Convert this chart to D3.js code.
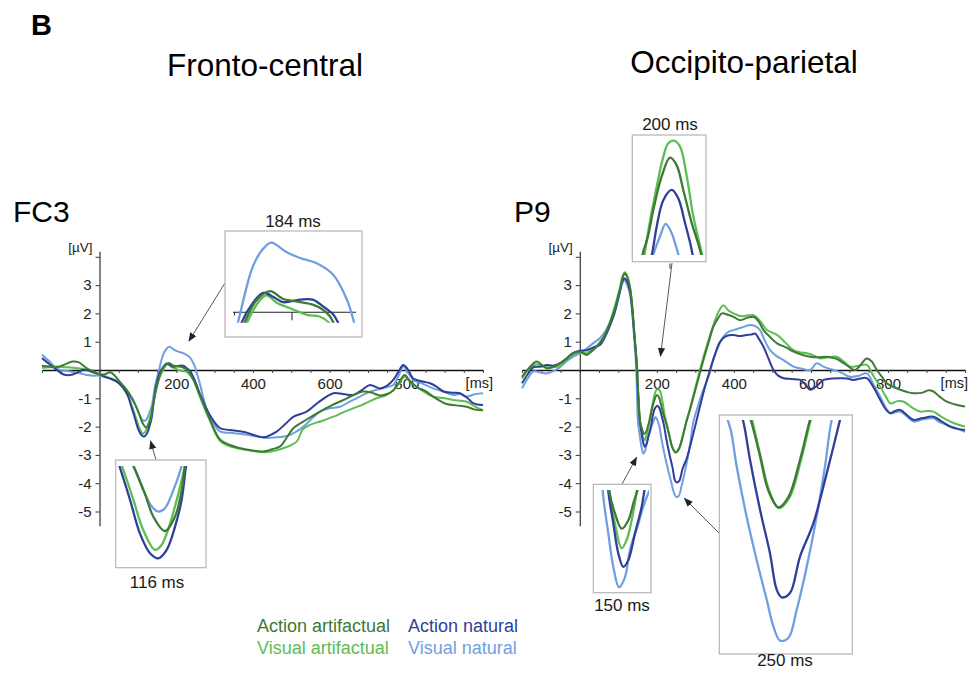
<!DOCTYPE html>
<html>
<head>
<meta charset="utf-8">
<script src="https://cdn.jsdelivr.net/npm/d3@7"></script>
<style>
body { margin: 0; background: #fff; }
svg text { font-family: "Liberation Sans", Arial, Helvetica, sans-serif; }
</style>
</head>
<body>
<svg width="968" height="675"></svg>
<script>
/* ERP waveforms, fronto-central (FC3) and occipito-parietal (P9) */

// Conditions, in legend order (row by row)
var conditions = ["Action artifactual", "Action natural", "Visual artifactual", "Visual natural"];
var condColors = ["#3d7a34", "#2f3f98", "#5dbd55", "#6f9fe0"];

// Tick labels
var timeLabels = [200, 400, 600, 800];
var voltTicks = [-5, -4, -3, -2, -1, 1, 2, 3, 4];
var voltLabels = [-5, -4, -3, -2, -1, 1, 2, 3];

// Waveforms: [time (ms), amplitude (µV)]
var fc3ActionArtifactual = [[-150,0.15],[-130,0.12],[-111,0.1],[-90,0.2],[-70,0.3],[-55,0.28],[-33,0.06],[-15,-0.05],[0,-0.15],[15,-0.15],[28,-0.08],[40,-0.2],[52,-0.4],[71,-0.7],[85,-1.0],[94.3,-1.26],[104.4,-1.59],[111.7,-1.86],[121.8,-2.03],[130.5,-1.86],[136.3,-1.55],[139.2,-1.26],[150,-0.55],[159,-0.12],[169,0.14],[181,0.25],[192,0.16],[207,0.12],[218,0.09],[227,0.03],[233,-0.05],[236,-0.12],[245,-0.35],[262,-0.9],[288,-1.75],[314,-2.45],[340,-2.65],[380,-2.8],[427,-2.88],[450,-2.8],[471,-2.7],[490,-2.35],[506,-2.05],[540,-1.75],[575,-1.47],[605,-1.25],[636,-1.06],[660,-0.9],[688,-0.76],[710,-0.8],[731,-0.9],[750,-0.85],[766,-0.72],[780,-0.45],[796,-0.18],[810,-0.4],[827,-0.6],[850,-0.75],[870,-0.94],[905,-1.2],[930,-1.25],[957,-1.3],[980,-1.4],[1000,-1.42]];
var fc3ActionNatural = [[-150,0.42],[-130,0.2],[-111,0.0],[-95,-0.15],[-77,-0.18],[-59,-0.1],[-45,0.0],[-33,0.0],[-15,-0.08],[0,-0.15],[15,-0.25],[28,-0.3],[49,-0.45],[71,-0.8],[82.1,-1.26],[91.4,-1.66],[100.1,-2.06],[108.8,-2.29],[116,-2.35],[123.3,-2.25],[130.5,-1.98],[136.3,-1.66],[140.1,-1.26],[148,-0.55],[156.3,-0.12],[166,0.11],[175,0.23],[184,0.18],[192,0.12],[207,0.15],[218,0.15],[227,0.07],[236,-0.03],[240,-0.12],[248,-0.35],[262,-0.85],[288,-1.6],[314,-2.05],[340,-2.12],[380,-2.2],[427,-2.38],[445,-2.3],[462,-2.18],[485,-1.9],[506,-1.65],[540,-1.47],[575,-1.1],[610,-0.82],[635,-0.85],[662,-0.88],[685,-0.7],[705,-0.53],[731,-0.65],[750,-0.55],[766,-0.35],[780,-0.05],[792,0.18],[805,0.0],[818,-0.3],[840,-0.4],[862,-0.47],[880,-0.6],[897,-0.76],[920,-0.8],[940,-0.82],[960,-1.0],[975,-1.18],[1000,-1.24]];
var fc3VisualArtifactual = [[-150,0.08],[-130,0.1],[-111,0.12],[-90,0.1],[-70,0.08],[-50,0.05],[-33,0.0],[-15,-0.1],[0,-0.15],[15,-0.22],[28,-0.3],[49,-0.45],[71,-0.85],[84.2,-1.26],[94.3,-1.66],[103,-2.02],[113.1,-2.25],[119,-2.19],[126.2,-1.94],[133.4,-1.59],[139.2,-1.26],[150,-0.55],[161,-0.12],[172,0.14],[178,0.2],[187,0.11],[198,0.05],[213,-0.03],[224,-0.05],[232,-0.12],[245,-0.35],[262,-0.95],[288,-1.8],[314,-2.5],[340,-2.7],[380,-2.82],[435,-2.9],[488,-2.72],[514,-2.53],[530,-2.1],[549,-1.94],[580,-1.8],[610,-1.65],[635,-1.5],[662,-1.35],[690,-1.2],[722,-1.0],[745,-0.9],[766,-0.72],[782,-0.45],[796,-0.24],[810,-0.4],[827,-0.6],[850,-0.8],[870,-0.94],[900,-1.0],[922,-1.06],[957,-1.12],[980,-1.3],[1000,-1.42]];
var fc3VisualNatural = [[-150,0.54],[-130,0.3],[-111,0.05],[-95,-0.02],[-77,-0.05],[-55,-0.1],[-33,-0.18],[-15,-0.2],[0,-0.2],[15,-0.25],[28,-0.3],[49,-0.4],[71,-0.75],[85,-1.05],[94.3,-1.26],[103,-1.55],[110.3,-1.74],[116,-1.8],[121.8,-1.76],[129,-1.55],[136.3,-1.26],[145,-0.55],[153,-0.12],[166,0.54],[175,0.75],[182,0.82],[195,0.71],[207,0.64],[221,0.58],[236,0.44],[248,0.14],[254,-0.12],[262,-0.5],[275,-1.2],[288,-1.65],[314,-2.17],[340,-2.22],[380,-2.28],[435,-2.4],[460,-2.38],[488,-2.33],[510,-2.2],[532,-2.0],[555,-1.7],[575,-1.47],[600,-1.35],[627,-1.3],[655,-1.1],[679,-0.94],[700,-0.8],[722,-0.7],[745,-0.62],[766,-0.53],[780,-0.2],[792,0.12],[805,-0.1],[818,-0.35],[845,-0.5],[870,-0.65],[895,-0.75],[922,-0.88],[940,-0.85],[957,-0.94],[980,-0.85],[1000,-0.82]];

var p9ActionArtifactual = [[-150,-0.24],[-130,0.1],[-112,0.3],[-100,0.2],[-86,0.06],[-70,0.1],[-51,0.24],[-35,0.4],[-17,0.6],[0,0.65],[18,0.53],[30,0.65],[44,0.82],[60,1.1],[78,1.65],[92,2.2],[104,2.82],[112,3.3],[117,3.41],[124,3.25],[130,2.94],[135,2.4],[139,1.76],[144,0.9],[148,0.24],[152,-0.9],[156.5,-1.81],[161.5,-2.08],[167.3,-2.26],[173.1,-2.16],[177.4,-1.96],[180.9,-1.81],[185.5,-1.5],[192.8,-1.1],[200,-0.88],[205.8,-0.97],[211.5,-1.26],[218.8,-1.65],[225,-1.92],[232.2,-2.31],[239.3,-2.71],[248,-2.91],[256.7,-2.79],[266.8,-2.35],[275.4,-1.88],[285,-1.45],[295,-0.95],[308,-0.3],[321,0.35],[335,1.0],[347,1.53],[360,1.85],[369,2.0],[385,1.95],[399,1.88],[416,1.76],[435,1.85],[451,1.88],[465,1.7],[477,1.41],[495,1.15],[512,0.94],[535,0.8],[555,0.65],[575,0.55],[598,0.47],[620,0.45],[641,0.47],[665,0.4],[685,0.24],[700,0.1],[715,0.0],[730,0.2],[745,0.41],[758,0.3],[771,0.0],[785,-0.25],[797,-0.47],[815,-0.6],[832,-0.7],[850,-0.78],[866,-0.82],[890,-0.8],[905,-0.72],[918,-0.76],[935,-0.95],[953,-1.12],[975,-1.22],[1000,-1.29]];
var p9ActionNatural = [[-150,-0.47],[-135,-0.15],[-120,0.1],[-100,0.12],[-86,0.18],[-70,0.15],[-51,0.24],[-35,0.4],[-17,0.6],[0,0.68],[18,0.7],[35,0.8],[52,0.88],[70,1.3],[87,1.88],[100,2.55],[110,3.1],[115,3.24],[122,3.15],[130,2.8],[135,2.3],[139,1.65],[144,0.85],[148,0.1],[152,-1.0],[155.7,-1.81],[160.1,-2.2],[164.4,-2.55],[168.7,-2.71],[173.1,-2.63],[178.9,-2.31],[184.5,-2.01],[188.5,-1.69],[194.2,-1.38],[201.5,-1.26],[207.2,-1.36],[213,-1.65],[218.5,-1.95],[223.5,-2.35],[232.2,-2.94],[240.8,-3.45],[246.6,-3.88],[250.9,-3.97],[258.1,-3.92],[266.8,-3.49],[278.3,-3.1],[289.9,-2.51],[301.4,-1.88],[312,-1.29],[325,-0.6],[338,0],[351,0.55],[364,1.0],[380,1.2],[399,1.24],[415,1.2],[433,1.24],[445,1.25],[455,1.29],[465,1.1],[477,0.82],[490,0.4],[503,0],[515,-0.2],[529,-0.29],[550,-0.32],[572,-0.35],[585,-0.5],[598,-0.7],[612,-0.6],[633,-0.35],[655,-0.3],[676,-0.29],[695,-0.3],[710,-0.35],[728,-0.3],[745,-0.29],[762,-0.6],[780,-1.06],[795,-1.4],[806,-1.53],[818,-1.45],[832,-1.41],[850,-1.6],[866,-1.76],[890,-1.7],[918,-1.65],[940,-1.82],[961,-2.0],[980,-2.08],[1000,-2.12]];
var p9VisualArtifactual = [[-150,-0.3],[-130,0.05],[-112,0.2],[-100,0.15],[-86,0.1],[-70,0.1],[-51,0.15],[-35,0.35],[-17,0.55],[0,0.62],[18,0.6],[30,0.72],[44,0.85],[60,1.15],[78,1.7],[92,2.3],[104,2.9],[112,3.35],[117,3.45],[124,3.3],[130,2.95],[135,2.45],[139,1.8],[144,0.9],[148,0.2],[152,-0.9],[156.5,-1.81],[161.5,-2.2],[167.3,-2.49],[171.7,-2.39],[177.4,-2.06],[181.5,-1.72],[188.5,-1.22],[194.2,-0.87],[198.5,-0.71],[203.5,-0.68],[208.7,-0.75],[214.5,-1.1],[220.2,-1.57],[227.4,-2.0],[233,-2.33],[240,-2.71],[248.5,-2.92],[257.5,-2.8],[267.5,-2.36],[276,-1.88],[285,-1.42],[295,-0.9],[308,-0.2],[321,0.45],[335,1.1],[347,1.6],[360,2.05],[373,2.29],[386,2.1],[399,2.0],[420,1.9],[451,1.94],[470,1.7],[486,1.41],[512,1.24],[535,0.95],[555,0.7],[575,0.62],[590,0.59],[610,0.5],[624,0.41],[645,0.45],[667,0.47],[685,0.3],[702,0.12],[725,0.15],[745,0.18],[762,-0.2],[780,-0.59],[795,-0.95],[806,-1.18],[825,-1.1],[841,-1.12],[865,-1.35],[884,-1.47],[900,-1.45],[918,-1.47],[935,-1.62],[953,-1.76],[975,-1.9],[1000,-2.0]];
var p9VisualNatural = [[-150,-0.65],[-135,-0.3],[-120,-0.05],[-100,-0.1],[-86,-0.12],[-70,-0.05],[-51,0.1],[-35,0.3],[-17,0.47],[0,0.6],[18,0.76],[35,0.95],[52,1.12],[70,1.45],[87,1.88],[100,2.5],[110,3.05],[115,3.18],[122,3.05],[130,2.7],[135,2.2],[139,1.53],[143,0.8],[146,0.2],[148.5,-0.8],[150.9,-1.81],[155.7,-2.31],[160.1,-2.71],[165,-2.95],[170.2,-2.83],[174.5,-2.51],[181.7,-2.2],[186,-2.0],[191.3,-1.81],[196.3,-1.66],[201.5,-1.77],[204.2,-1.88],[207.2,-2.02],[212,-2.43],[220.6,-3.02],[229.3,-3.53],[238,-4.0],[243.7,-4.31],[249.5,-4.48],[256.7,-4.45],[263.9,-4.12],[272.6,-3.61],[281.2,-3.02],[288.4,-2.43],[294.2,-1.88],[305,-1.35],[318,-0.8],[335,-0.2],[350,0.5],[373,1.18],[386,1.35],[399,1.41],[420,1.5],[442,1.59],[455,1.55],[468,1.41],[480,1.05],[494,0.7],[510,0.5],[529,0.35],[555,0.12],[575,0.05],[598,0],[615,0.24],[635,0.1],[659,0],[680,-0.1],[702,-0.24],[725,-0.2],[745,-0.12],[762,-0.5],[780,-0.94],[795,-1.35],[806,-1.53],[818,-1.5],[832,-1.47],[850,-1.65],[866,-1.82],[890,-1.75],[918,-1.71],[935,-1.85],[953,-1.94],[975,-2.05],[1000,-2.18]];

// Layout
var timeDomain = [-150, 1000];
var voltDomain = [-5.5, 4.2];
var zeroY = 370, pxPerUv = 28.3;
var zoomFactor = 3;

var panels = [
	{
		electrode: "FC3", title: "Fronto-central", titleX: 265, titleY: 76,
		left: 42, right: 483, msX: 493,
		series: [fc3ActionArtifactual, fc3ActionNatural, fc3VisualArtifactual, fc3VisualNatural],
		insets: [
			{ label: "184 ms", box: [225, 231, 137, 106], t: 200, v: 0, px: 292, py: 312.3, clip: [233, 233, 123, 89.7], labelX: 293, labelY: 227, zeroLine: true },
			{ label: "116 ms", box: [115.7, 460, 90.3, 107.7], t: 116, v: -2.35, px: 158.3, py: 558.3, clip: [117, 466, 87, 100], labelX: 157, labelY: 588 }
		],
		arrows: [[225, 283, 189, 341], [156, 460, 150.5, 441]]
	},
	{
		electrode: "P9", title: "Occipito-parietal", titleX: 744, titleY: 73,
		left: 522, right: 965, msX: 968,
		series: [p9ActionArtifactual, p9ActionNatural, p9VisualArtifactual, p9VisualNatural],
		insets: [
			{ label: "200 ms", box: [632.3, 135, 73.7, 126.7], t: 200, v: -0.88, px: 670, py: 157.7, clip: [634, 137, 70, 118], labelX: 670, labelY: 130, tick: true },
			{ label: "150 ms", box: [593.3, 484.3, 57.7, 108.4], t: 165, v: -2.95, px: 619, py: 587.3, clip: [595, 490, 54, 101], labelX: 622, labelY: 611 },
			{ label: "250 ms", box: [719.3, 415, 133, 239], t: 248, v: -2.91, px: 778.3, py: 507.3, clip: [721, 420, 129, 232], labelX: 785, labelY: 666 }
		],
		arrows: [[672, 263, 660.5, 356], [622, 484, 636.5, 457.5], [719, 533, 684.5, 498.5]]
	}
];

// draw order of the conditions (back to front)
var drawOrder = [3, 2, 1, 0];

var svg = d3.select("svg");

svg.append("defs").append("marker")
	.attr("id", "arrowhead")
	.attr("viewBox", "0 0 10 10")
	.attr("refX", 9).attr("refY", 5)
	.attr("markerWidth", 9).attr("markerHeight", 9)
	.attr("markerUnits", "userSpaceOnUse")
	.attr("orient", "auto")
	.append("path")
	.attr("d", "M0,1 L10,5 L0,9 Z")
	.attr("fill", "#222");

svg.append("text")
	.attr("x", 31).attr("y", 35)
	.attr("font-size", 29).attr("font-weight", "bold")
	.text("B");

panels.forEach(function (p, pi) {
	var x = d3.scaleLinear().domain(timeDomain).range([p.left, p.right]);
	var y = d3.scaleLinear().domain(voltDomain)
		.range([zeroY - voltDomain[0] * pxPerUv, zeroY - voltDomain[1] * pxPerUv]);

	var g = svg.append("g");

	g.append("text")
		.attr("x", p.titleX).attr("y", p.titleY)
		.attr("text-anchor", "middle")
		.attr("font-size", 31.5)
		.text(p.title);

	g.append("text")
		.attr("x", p.left - (pi == 0 ? 29 : 8)).attr("y", 222)
		.attr("font-size", 30)
		.text(p.electrode);

	// x axis (zero line) with 50 ms ticks
	var xAxis = g.append("g")
		.attr("transform", "translate(0," + zeroY + ")")
		.call(d3.axisBottom(x)
			.tickValues(d3.range(timeDomain[0], timeDomain[1] + 1, 50))
			.tickSize(3)
			.tickSizeOuter(0)
			.tickPadding(5)
			.tickFormat(function (d) { return timeLabels.indexOf(d) >= 0 ? d : ""; }));
	xAxis.select(".domain").attr("stroke", "#111").attr("stroke-width", 1.4);
	xAxis.selectAll(".tick line").attr("stroke", "#444");
	xAxis.selectAll("text").attr("font-size", 15).attr("fill", "#222");

	g.append("text")
		.attr("x", p.msX).attr("y", zeroY + 18)
		.attr("text-anchor", "end")
		.attr("font-size", 14.5).attr("fill", "#222")
		.text("[ms]");

	// y axis at stimulus onset
	var yAxis = g.append("g")
		.attr("transform", "translate(" + x(0) + ",0)")
		.call(d3.axisLeft(y)
			.tickValues(voltTicks)
			.tickSize(4)
			.tickSizeOuter(0)
			.tickPadding(4)
			.tickFormat(function (d) { return voltLabels.indexOf(d) >= 0 ? String(d) : ""; }));
	yAxis.select(".domain").attr("stroke", "#333").attr("stroke-width", 1.2);
	yAxis.selectAll(".tick line").attr("stroke", "#333");
	yAxis.selectAll("text").attr("font-size", 15).attr("fill", "#222");

	g.append("text")
		.attr("x", x(0) - 7).attr("y", 252)
		.attr("text-anchor", "end")
		.attr("font-size", 13.5).attr("fill", "#222")
		.text("[µV]");

	var line = d3.line()
		.x(function (d) { return x(d[0]); })
		.y(function (d) { return y(d[1]); })
		.curve(d3.curveCatmullRom.alpha(0.5));

	drawOrder.forEach(function (ci) {
		g.append("path")
			.datum(p.series[ci])
			.attr("fill", "none")
			.attr("stroke", condColors[ci])
			.attr("stroke-width", 2)
			.attr("stroke-linejoin", "round")
			.attr("d", line);
	});

	// arrows from insets to the waveform
	p.arrows.forEach(function (a) {
		g.append("line")
			.attr("x1", a[0]).attr("y1", a[1])
			.attr("x2", a[2]).attr("y2", a[3])
			.attr("stroke", "#444")
			.attr("stroke-width", 0.9)
			.attr("marker-end", "url(#arrowhead)");
	});

	// magnified insets, same data at 3x scale
	p.insets.forEach(function (ins, ii) {
		var ix = d3.scaleLinear()
			.domain([ins.t, ins.t + 100])
			.range([ins.px, ins.px + zoomFactor * (x(ins.t + 100) - x(ins.t))]);
		var iy = d3.scaleLinear()
			.domain([ins.v, ins.v + 1])
			.range([ins.py, ins.py + zoomFactor * (y(ins.v + 1) - y(ins.v))]);

		var clipId = "clip" + pi + "_" + ii;
		svg.select("defs").append("clipPath")
			.attr("id", clipId)
			.append("rect")
			.attr("x", ins.clip[0]).attr("y", ins.clip[1])
			.attr("width", ins.clip[2]).attr("height", ins.clip[3]);

		var ig = g.append("g");
		ig.append("rect")
			.attr("x", ins.box[0]).attr("y", ins.box[1])
			.attr("width", ins.box[2]).attr("height", ins.box[3])
			.attr("fill", "#fff")
			.attr("stroke", "#b5b5b5")
			.attr("stroke-width", 1.2);

		ig.append("text")
			.attr("x", ins.labelX).attr("y", ins.labelY)
			.attr("text-anchor", "middle")
			.attr("font-size", 17).attr("fill", "#1a1a1a")
			.text(ins.label);

		if (ins.zeroLine) {
			ig.append("line")
				.attr("x1", ins.clip[0]).attr("x2", ins.clip[0] + ins.clip[2])
				.attr("y1", iy(0)).attr("y2", iy(0))
				.attr("stroke", "#222").attr("stroke-width", 1.1);
			[ins.t - 50, ins.t].forEach(function (tt, k) {
				ig.append("line")
					.attr("x1", ix(tt)).attr("x2", ix(tt))
					.attr("y1", iy(0)).attr("y2", iy(0) + (k == 0 ? 3 : 8))
					.attr("stroke", "#222").attr("stroke-width", 1);
			});
		}
		if (ins.tick) {
			ig.append("line")
				.attr("x1", ix(ins.t)).attr("x2", ix(ins.t))
				.attr("y1", ins.box[1] + ins.box[3] + 2).attr("y2", ins.box[1] + ins.box[3] + 7)
				.attr("stroke", "#333").attr("stroke-width", 1);
		}

		var iline = d3.line()
			.x(function (d) { return ix(d[0]); })
			.y(function (d) { return iy(d[1]); })
			.curve(d3.curveCatmullRom.alpha(0.5));

		var cg = ig.append("g").attr("clip-path", "url(#" + clipId + ")");
		drawOrder.forEach(function (ci) {
			cg.append("path")
				.datum(p.series[ci])
				.attr("fill", "none")
				.attr("stroke", condColors[ci])
				.attr("stroke-width", 2.3)
				.attr("stroke-linejoin", "round")
				.attr("d", iline);
		});
	});
});

// Legend, two rows of two
var legendX = [257, 408], legendY = [632, 654];
conditions.forEach(function (c, i) {
	svg.append("text")
		.attr("x", legendX[i % 2])
		.attr("y", legendY[Math.floor(i / 2)])
		.attr("font-size", 18)
		.attr("fill", condColors[i])
		.text(c);
});
</script>
</body>
</html>
